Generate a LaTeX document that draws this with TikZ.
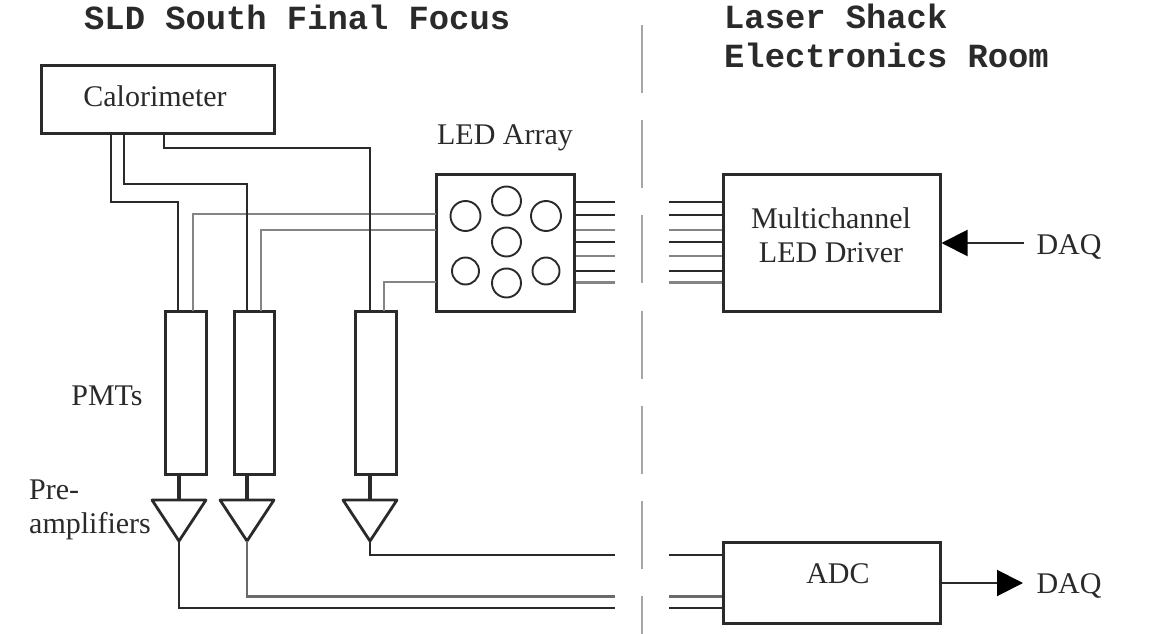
\documentclass[tikz,border=0pt]{standalone}
\usepackage{fontspec}
\setmainfont{Liberation Serif}
\newfontfamily\titlefont[BoldFont={Liberation Mono Bold}]{Liberation Mono}
\usetikzlibrary{arrows.meta}
\definecolor{ink}{HTML}{2A2A2A}
\definecolor{wiregray}{HTML}{858585}
\tikzset{
  box/.style={draw=ink,line width=3pt,inner sep=0pt},
  wire/.style={draw=ink,line width=2pt},
  graywire/.style={draw=wiregray,line width=2.8pt},
  led/.style={draw=ink,line width=1.9pt,circle,inner sep=0pt},
  lab/.style={text=ink,font=\fontsize{30}{34.5}\selectfont,inner sep=0pt},
  heading/.style={text=ink,font=\titlefont\bfseries\fontsize{33.8}{39}\selectfont,inner sep=0pt,anchor=west,align=left},
  amp/.style={draw=ink,line width=2.8pt,line join=round},
  daq/.style={draw=ink,line width=2pt,-{Triangle[length=26pt,width=26pt,color=black]}}
}

\begin{document}
\begin{tikzpicture}[x=1pt,y=-1pt]
  \useasboundingbox (0,0) rectangle (1160,634);

  % divider between the two areas
  \coordinate (divtop) at (642,25);
  \coordinate (divbot) at (642,634);
  \draw[draw=black!35,line width=2.6pt,dash pattern=on 68pt off 27.2pt] (divtop) -- (divbot);

  % headings
  \node[heading] (south) at (84,17) {SLD South Final Focus};
  \node[heading] (shack) at (724,36) {Laser Shack\\Electronics Room};

  % boxes
  \node[box,minimum width=233pt,minimum height=67pt] (calo) at (157.5,99.5) {};
  \node[box,minimum width=138pt,minimum height=137pt] (array) at (505,242.5) {};
  \node[box,minimum width=217pt,minimum height=137pt] (driver) at (831.5,242.5) {};
  \node[box,minimum width=217pt,minimum height=81pt] (adc) at (831.5,582.5) {};
  \node[box,minimum width=41pt,minimum height=163pt] (pmtA) at (185.5,392.5) {};
  \node[box,minimum width=40pt,minimum height=163pt] (pmtB) at (254,392.5) {};
  \node[box,minimum width=41pt,minimum height=163pt] (pmtC) at (375.5,392.5) {};

  % ports on the boxes
  \coordinate (caloA) at (111,133);
  \coordinate (caloB) at (124,133);
  \coordinate (caloC) at (164,133);
  \coordinate (pmtAin) at (178,311);
  \coordinate (pmtBin) at (247,311);
  \coordinate (pmtCin) at (370,311);
  \coordinate (pmtAled) at (193,311);
  \coordinate (pmtBled) at (261,311);
  \coordinate (pmtCled) at (384,311);
  \coordinate (arrayA) at (436,214);
  \coordinate (arrayB) at (436,230);
  \coordinate (arrayC) at (436,282);

  % fibres
  \draw[graywire] (arrayA) -- (193,214) -- (pmtAled);
  \draw[graywire] (arrayB) -- (261,230) -- (pmtBled);
  \draw[graywire] (arrayC) -- (384,282) -- (pmtCled);
  \draw[wire] (caloA) -- (111,202) -- (178,202) -- (pmtAin);
  \draw[wire] (caloB) -- (124,184) -- (247,184) -- (pmtBin);
  \draw[wire] (caloC) -- (164,148) -- (370,148) -- (pmtCin);

  % LEDs
  \node[led,minimum size=30pt] (ledA) at (465.5,216) {};
  \node[led,minimum size=29pt] (ledB) at (506.5,201) {};
  \node[led,minimum size=30pt] (ledC) at (546,216) {};
  \node[led,minimum size=29pt] (ledD) at (506.5,242) {};
  \node[led,minimum size=27pt] (ledE) at (465.5,271) {};
  \node[led,minimum size=29pt] (ledF) at (506.5,283) {};
  \node[led,minimum size=27pt] (ledG) at (546,271) {};

  % bundle from the array to the driver
  \foreach \y/\s in {201.5/wire,215/wire,230/graywire,241.5/wire,256/graywire,270.5/wire,282.5/graywire}{
    \draw[\s] (array.east |- 0,\y) -- (615,\y);
    \draw[\s] (669,\y) -- (driver.west |- 0,\y);
  }

  % amplifiers
  \coordinate (ampA) at (179,500);
  \coordinate (ampB) at (247,500);
  \coordinate (ampC) at (370,500);
  \draw[amp] (ampA) -- ++(-27,0) -- ++(27,41) coordinate (ampAout) -- ++(27,-41) -- cycle;
  \draw[amp] (ampB) -- ++(-27,0) -- ++(27,41) coordinate (ampBout) -- ++(27,-41) -- cycle;
  \draw[amp] (ampC) -- ++(-27,0) -- ++(27,41) coordinate (ampCout) -- ++(27,-41) -- cycle;
  \draw[amp,line width=3.4pt] (pmtA.south -| ampA) -- (ampA);
  \draw[amp,line width=3.4pt] (pmtB.south -| ampB) -- (ampB);
  \draw[amp,line width=3.4pt] (pmtC.south -| ampC) -- (ampC);

  % signal cables
  \draw[wire] (ampCout) -- (370,555) -- (615,555);
  \draw[graywire,draw=ink!70] (ampBout) -- (247,596.5) -- (615,596.5);
  \draw[wire] (ampAout) -- (179,608) -- (615,608);
  \draw[wire] (669,555) -- (adc.west |- 0,555);
  \draw[graywire,draw=ink!70] (669,596.5) -- (adc.west |- 0,596.5);
  \draw[wire] (669,608) -- (adc.west |- 0,608);

  % labels
  \node[lab] (calotext) at (155,96) {Calorimeter};
  \node[lab] (arraytext) at (505,138) {LED Array};
  \node[lab,align=center] (drivertext) at (831,235) {Multichannel\\LED Driver};
  \node[lab] (adctext) at (838,574) {ADC};
  \node[lab] (pmttext) at (107,396) {PMTs};
  \node[lab,anchor=west,align=left] (amptext) at (29,510) {Pre-\\amplifiers};
  \node[lab] (daqin) at (1069,247) {DAQ};
  \node[lab] (daqout) at (1069,586) {DAQ};

  % DAQ arrows
  \coordinate (daqinend) at (1024,243);
  \coordinate (daqoutend) at (1023,583);
  \draw[daq] (daqinend) -- (driver.east |- daqinend);
  \draw[daq] (adc.east |- daqoutend) -- (daqoutend);
\end{tikzpicture}
\end{document}
